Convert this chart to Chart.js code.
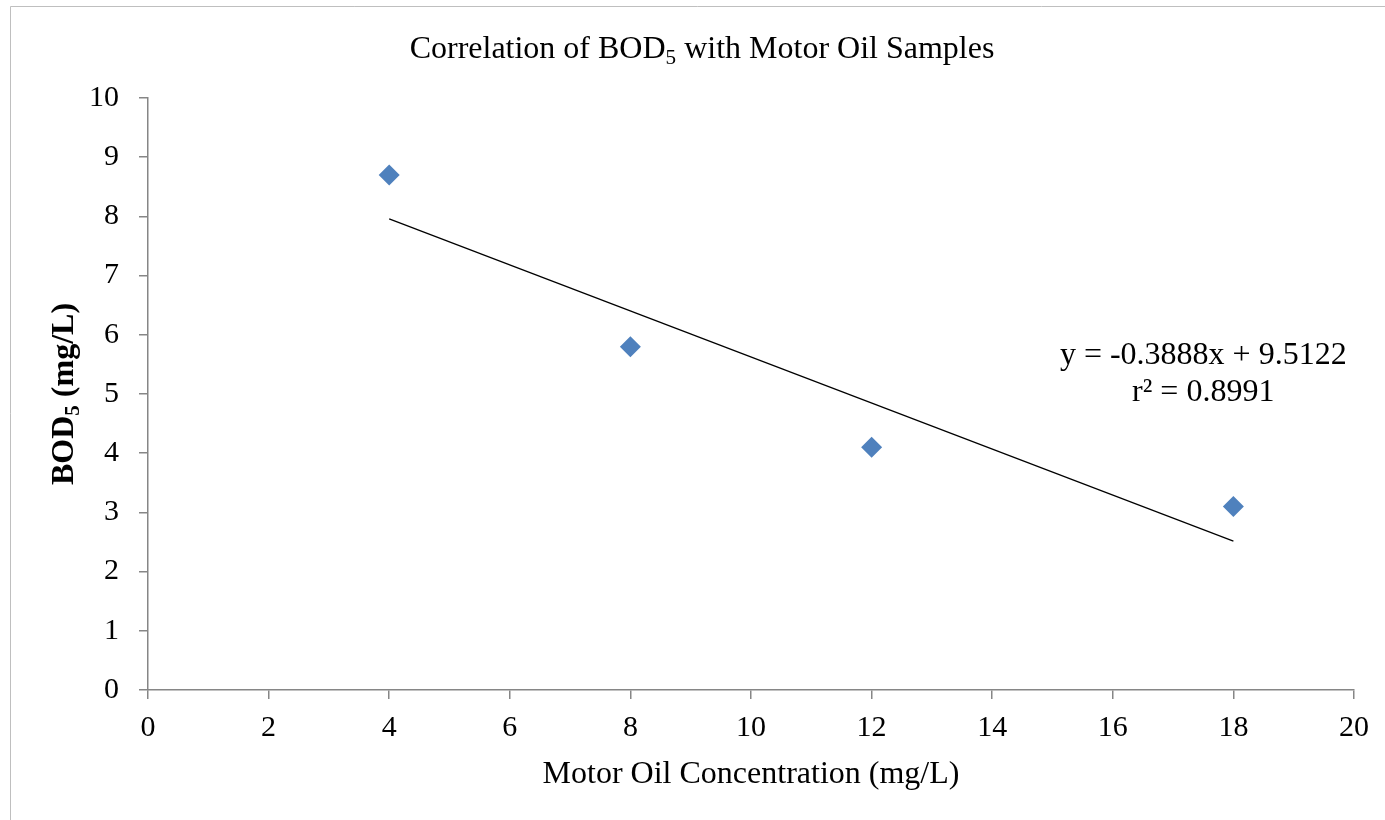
<!DOCTYPE html>
<html>
<head>
<meta charset="utf-8">
<script src="https://cdn.jsdelivr.net/npm/chart.js@4.4.1/dist/chart.umd.min.js"></script>
<style>
  html, body { margin: 0; padding: 0; background: #fff; }
  #wrap { width: 1385px; height: 820px; position: relative; }
</style>
</head>
<body>
<div id="wrap"><canvas id="bodChart"></canvas></div>
<script>
// Measured samples
const oilConc = [4, 8, 12, 18];
const bodValues = [8.7, 5.8, 4.1, 3.1];

// Linear trendline as reported on the chart
const trendSlope = -0.3888;
const trendIntercept = 9.5122;
const trendR2 = 0.8991;

const xTicks = [0, 2, 4, 6, 8, 10, 12, 14, 16, 18, 20];
const yTicks = [0, 1, 2, 3, 4, 5, 6, 7, 8, 9, 10];

const serif = "'Liberation Serif', 'Times New Roman', serif";
const axisGrey = '#868686';

// draw text with a subscript part, centred on x
function drawSubText(ctx, parts, x, y, size, weight) {
    let total = 0;
    const widths = parts.map(p => {
        ctx.font = weight + ' ' + (p[1] ? size * 0.66 : size) + 'px ' + serif;
        const w = ctx.measureText(p[0]).width;
        total += w;
        return w;
    });
    let cx = x - total / 2;
    parts.forEach((p, i) => {
        ctx.font = weight + ' ' + (p[1] ? size * 0.66 : size) + 'px ' + serif;
        ctx.fillText(p[0], cx, p[1] ? y + size * 0.2 : y);
        cx += widths[i];
    });
}

const labelsPlugin = {
    id: 'labels',
    beforeDraw(chart) {
        const ctx = chart.ctx;
        ctx.save();
        ctx.fillStyle = '#fff';
        ctx.fillRect(0, 0, chart.width, chart.height);
        ctx.strokeStyle = '#bfbfbf';
        ctx.lineWidth = 1;
        ctx.beginPath();
        ctx.moveTo(10.5, chart.height);
        ctx.lineTo(10.5, 6.5);
        ctx.lineTo(chart.width, 6.5);
        ctx.stroke();
        ctx.restore();
    },
    afterDraw(chart) {
        const ctx = chart.ctx;
        const area = chart.chartArea;
        const xs = chart.scales.x, ys = chart.scales.y;
        ctx.save();
        ctx.fillStyle = '#000';
        ctx.textBaseline = 'alphabetic';
        ctx.textAlign = 'left';

        // chart title
        drawSubText(ctx, [['Correlation of BOD', false], ['5', true], [' with Motor Oil Samples', false]],
            702, 58, 32, 'normal');

        // y axis title, rotated
        ctx.save();
        ctx.translate(73, (area.top + area.bottom) / 2);
        ctx.rotate(-Math.PI / 2);
        drawSubText(ctx, [['BOD', false], ['5', true], [' (mg/L)', false]], 0, 0, 32, 'bold');
        ctx.restore();

        // x axis title
        ctx.font = '32px ' + serif;
        ctx.textAlign = 'center';
        ctx.fillText('Motor Oil Concentration (mg/L)', (area.left + area.right) / 2, 783);

        // trendline equation
        const ex = xs.getPixelForValue(17.5);
        const ey = ys.getPixelForValue(5.5);
        ctx.fillText('y = ' + trendSlope.toFixed(4) + 'x + ' + trendIntercept.toFixed(4), ex, ey);
        ctx.fillText('r\u00b2 = ' + trendR2.toFixed(4), ex, ey + 37);
        ctx.restore();
    }
};

const trendX = [oilConc[0], oilConc[oilConc.length - 1]];

new Chart(document.getElementById('bodChart'), {
    type: 'scatter',
    data: {
        datasets: [{
            label: 'BOD5',
            data: oilConc.map((x, i) => ({ x: x, y: bodValues[i] })),
            pointStyle: 'rectRot',
            pointRadius: 10.5,
            pointHoverRadius: 10.5,
            backgroundColor: '#4f81bd',
            borderColor: '#4f81bd',
            borderWidth: 0
        }, {
            label: 'Trend',
            type: 'line',
            data: trendX.map(x => ({ x: x, y: trendSlope * x + trendIntercept })),
            borderColor: '#000',
            borderWidth: 1.3,
            pointRadius: 0,
            fill: false
        }]
    },
    options: {
        responsive: true,
        maintainAspectRatio: false,
        animation: false,
        layout: { padding: { top: 98, right: 31, left: 0, bottom: 0 } },
        plugins: {
            legend: { display: false },
            tooltip: { enabled: false }
        },
        scales: {
            x: {
                type: 'linear',
                min: 0, max: 20,
                afterBuildTicks: s => { s.ticks = xTicks.map(v => ({ value: v })); },
                afterFit: s => { s.height = 130; },
                grid: { drawOnChartArea: false, color: axisGrey, tickLength: 9, lineWidth: 1.5 },
                border: { color: axisGrey, width: 1.5 },
                ticks: { color: '#000', font: { family: serif, size: 30 }, padding: 11 }
            },
            y: {
                type: 'linear',
                min: 0, max: 10,
                afterBuildTicks: s => { s.ticks = yTicks.map(v => ({ value: v })); },
                afterFit: s => { s.width = 148; },
                grid: { drawOnChartArea: false, color: axisGrey, tickLength: 9, lineWidth: 1.5 },
                border: { color: axisGrey, width: 1.5 },
                ticks: { color: '#000', font: { family: serif, size: 30 }, padding: 20 }
            }
        }
    },
    plugins: [labelsPlugin]
});
</script>
</body>
</html>
